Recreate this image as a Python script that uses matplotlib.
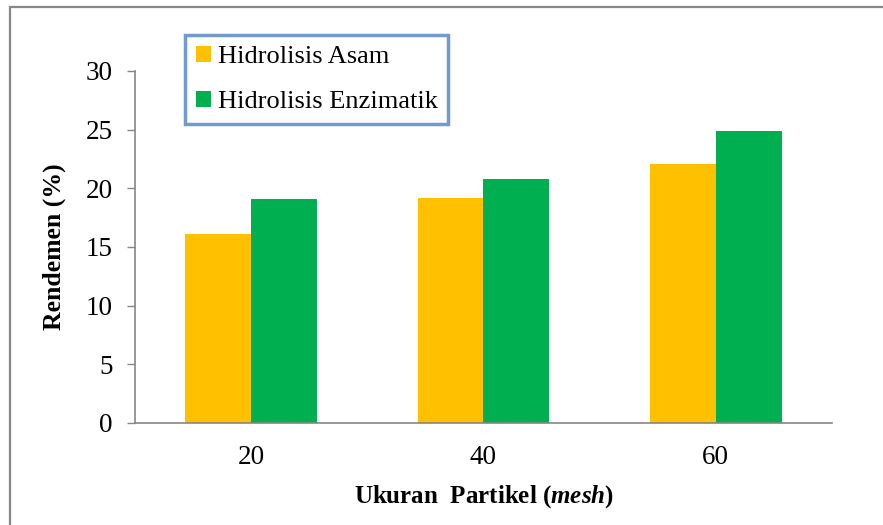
import matplotlib.pyplot as plt
from matplotlib.patches import Rectangle
import numpy as np

categories = ["20", "40", "60"]
asam = [16.1, 19.2, 22.1]
enzimatik = [19.1, 20.8, 24.9]
labels = ["Hidrolisis Asam", "Hidrolisis Enzimatik"]

plt.rcParams['font.family'] = ['Liberation Serif', 'DejaVu Serif']
plt.rcParams['mathtext.fontset'] = 'custom'
plt.rcParams['mathtext.it'] = 'Liberation Serif:bold:italic'
plt.rcParams['mathtext.rm'] = 'Liberation Serif:bold'

fig = plt.figure(figsize=(8.83, 5.25), dpi=100)
ax = fig.add_axes([0.1529, 0.1943, 0.7893, 0.6705])

x = np.arange(len(categories))
w = 0.284
ax.bar(x - w / 2, asam, w, color="#FFC000", label=labels[0])
ax.bar(x + w / 2, enzimatik, w, color="#00B050", label=labels[1])

ax.set_xlim(-0.5, 2.5)
ax.set_ylim(0, 30)
ax.set_yticks(range(0, 31, 5))
ax.set_xticks(x)
ax.set_xticklabels(categories)
ax.tick_params(axis='y', length=6, width=1, color="#868686", labelsize=19.5, pad=10)
ax.tick_params(axis='x', length=0, labelsize=19.5, pad=16)

for s in ["top", "right"]:
    ax.spines[s].set_visible(False)
for s in ["left", "bottom"]:
    ax.spines[s].set_color("#868686")
    ax.spines[s].set_linewidth(1.2)

ax.set_ylabel("Rendemen (%)", fontsize=18.5, fontweight="bold", labelpad=14)
ax.set_xlabel(r"Ukuran  Partikel ($\mathit{mesh}$)", fontsize=18, fontweight="bold", labelpad=9)

leg = ax.legend(loc="upper left", bbox_to_anchor=(0.0717, 1.102), fontsize=19,
                fancybox=False, frameon=True, handlelength=0.6, handleheight=0.6,
                handletextpad=0.25, labelspacing=0.85, borderpad=0.4, borderaxespad=0)
leg.get_frame().set_edgecolor("#4F81BD")
leg.get_frame().set_linewidth(2.5)

fig.patches.append(Rectangle((10 / 883, -0.1), 1.2, 1.1 - 7 / 525, transform=fig.transFigure,
                             fill=False, edgecolor="#888888", linewidth=1.6))

fig.savefig("out.png", dpi=100)
